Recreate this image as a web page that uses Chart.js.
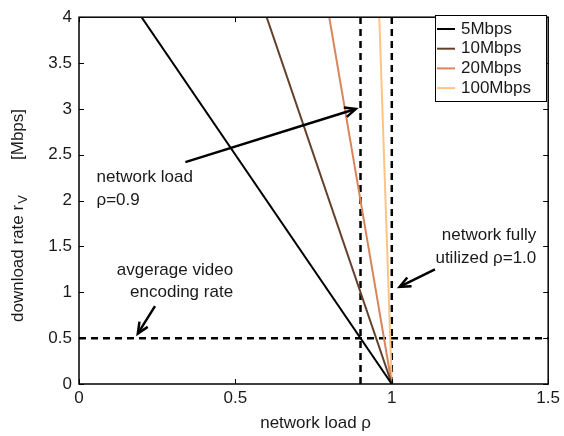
<!DOCTYPE html>
<html>
<head>
<meta charset="utf-8">
<script src="https://cdn.jsdelivr.net/npm/chart.js@4"></script>
<style>
  html, body { margin: 0; padding: 0; background: #fff; }
  #wrap { width: 564px; height: 436px; position: relative; }
</style>
</head>
<body>
<div id="wrap"><canvas id="c"></canvas></div>
<script>
// link capacities and line colours
const seriesLabels = ['5Mbps', '10Mbps', '20Mbps', '100Mbps'];
const seriesColors = ['#000000', '#62402a', '#d9845a', '#fdc482'];
// each line: [rho, rate] end points, rate = C * (1 - rho)
const seriesPoints = [
  [[0.2, 4], [1, 0]],
  [[0.6, 4], [1, 0]],
  [[0.8, 4], [1, 0]],
  [[0.96, 4], [1, 0]]
];
// reference lines
const vLines = [0.9, 1.0];
const hLines = [0.5];
const xTicks = [0, 0.5, 1, 1.5];
const yTicks = [0, 0.5, 1, 1.5, 2, 2.5, 3, 3.5, 4];

// arrows: from [x, y] to [x, y]
const arrows = [
  [[0.34, 2.42], [0.885, 3.0]],
  [[1.138, 1.25], [1.025, 1.06]],
  [[0.243, 0.85], [0.188, 0.55]]
];
// text notes: lines, anchor [x, y], alignment
const notes = [
  { lines: ['network load', 'ρ=0.9'], at: [0.056, 2.25], align: 'left' },
  { lines: ['avgerage video', 'encoding rate'], at: [0.4926, 1.24], align: 'right' },
  { lines: ['network fully', 'utilized ρ=1.0'], at: [1.462, 1.62], align: 'right' }
];

const FONT = '"Liberation Sans", Arial, sans-serif';
const FS = 17;
const TXT = '#1a1a1a';

const datasets = seriesLabels.map((lab, i) => ({
  label: lab,
  data: seriesPoints[i].map(p => ({ x: p[0], y: p[1] })),
  borderColor: seriesColors[i],
  borderWidth: 2,
  pointRadius: 0,
  fill: false
}));
vLines.forEach(v => datasets.push({
  label: '_v' + v,
  data: [{ x: v, y: 0 }, { x: v, y: 4 }],
  borderColor: '#000',
  borderWidth: 2.5,
  borderDash: [7, 5],
  pointRadius: 0
}));
hLines.forEach(h => datasets.push({
  label: '_h' + h,
  data: [{ x: 0, y: h }, { x: 1.5, y: h }],
  borderColor: '#000',
  borderWidth: 2.5,
  borderDash: [7, 5],
  pointRadius: 0
}));

function drawArrow(ctx, x1, y1, x2, y2) {
  const ang = Math.atan2(y2 - y1, x2 - x1);
  const hl = 12, hw = 0.42;
  ctx.beginPath();
  ctx.moveTo(x1, y1);
  ctx.lineTo(x2 - Math.cos(ang) * 2, y2 - Math.sin(ang) * 2);
  ctx.stroke();
  ctx.beginPath();
  ctx.moveTo(x2 - hl * Math.cos(ang - hw), y2 - hl * Math.sin(ang - hw));
  ctx.lineTo(x2, y2);
  ctx.lineTo(x2 - hl * Math.cos(ang + hw), y2 - hl * Math.sin(ang + hw));
  ctx.stroke();
}

const decorations = {
  id: 'decorations',
  afterDatasetsDraw(chart) {
    const { ctx, chartArea: a, scales: { x, y } } = chart;
    ctx.save();
    // box and inward ticks
    ctx.strokeStyle = '#000';
    ctx.lineWidth = 1.5;
    ctx.strokeRect(a.left, a.top, a.right - a.left, a.bottom - a.top);
    ctx.lineWidth = 1;
    ctx.beginPath();
    yTicks.forEach(t => {
      const py = Math.round(y.getPixelForValue(t)) + 0.5;
      ctx.moveTo(a.left, py); ctx.lineTo(a.left + 5, py);
      ctx.moveTo(a.right, py); ctx.lineTo(a.right - 5, py);
    });
    xTicks.forEach(t => {
      const px = Math.round(x.getPixelForValue(t)) + 0.5;
      ctx.moveTo(px, a.bottom); ctx.lineTo(px, a.bottom - 5);
      ctx.moveTo(px, a.top); ctx.lineTo(px, a.top + 5);
    });
    ctx.stroke();

    // arrows
    ctx.lineWidth = 2.5;
    ctx.lineCap = 'butt';
    ctx.lineJoin = 'miter';
    arrows.forEach(([p, q]) => drawArrow(ctx,
      x.getPixelForValue(p[0]), y.getPixelForValue(p[1]),
      x.getPixelForValue(q[0]), y.getPixelForValue(q[1])));

    // notes
    ctx.fillStyle = TXT;
    ctx.font = FS + 'px ' + FONT;
    ctx.textBaseline = 'middle';
    notes.forEach(n => {
      ctx.textAlign = n.align;
      const px = x.getPixelForValue(n.at[0]);
      const py = y.getPixelForValue(n.at[1]);
      n.lines.forEach((s, i) => ctx.fillText(s, px, py + i * 22.5));
    });

    // legend
    const lx = 435, ly = 15, lw = 111, lh = 86;
    ctx.fillStyle = '#fff';
    ctx.fillRect(lx, ly, lw, lh);
    ctx.strokeStyle = '#000';
    ctx.lineWidth = 1;
    ctx.strokeRect(lx + 0.5, ly + 0.5, lw, lh);
    ctx.textAlign = 'left';
    seriesLabels.forEach((lab, i) => {
      const ry = ly + 14 + i * 19.7;
      ctx.strokeStyle = seriesColors[i];
      ctx.lineWidth = 2;
      ctx.beginPath();
      ctx.moveTo(lx + 2, ry); ctx.lineTo(lx + 20, ry);
      ctx.stroke();
      ctx.fillStyle = TXT;
      ctx.fillText(lab, lx + 26, ry);
    });

    // axis titles
    ctx.textAlign = 'center';
    ctx.fillText('network load ρ', (a.left + a.right) / 2 + 2, 423);

    // y title reads bottom to top, with subscript V
    ctx.translate(23, 322);
    ctx.rotate(-Math.PI / 2);
    ctx.textAlign = 'left';
    ctx.textBaseline = 'alphabetic';
    ctx.font = FS + 'px ' + FONT;
    const main = 'download rate r';
    const w1 = ctx.measureText(main).width;
    ctx.fillText(main, 0, 0);
    ctx.font = '13px ' + FONT;
    ctx.fillText('V', w1 + 1, 4);
    ctx.font = FS + 'px ' + FONT;
    ctx.fillText('[Mbps]', 162, 0);
    ctx.restore();
  }
};

new Chart(document.getElementById('c'), {
  type: 'line',
  data: { datasets },
  plugins: [decorations],
  options: {
    responsive: true,
    maintainAspectRatio: false,
    animation: false,
    layout: { padding: { left: 0, right: 13, top: 10, bottom: 0 } },
    plugins: {
      legend: { display: false },
      tooltip: { enabled: false }
    },
    scales: {
      x: {
        type: 'linear',
        min: 0, max: 1.5,
        afterBuildTicks: s => { s.ticks = xTicks.map(v => ({ value: v })); },
        afterFit: s => { s.height = 52; },
        grid: { display: false, drawTicks: false },
        border: { display: false },
        ticks: { color: TXT, font: { family: FONT, size: FS }, padding: 4, maxRotation: 0,
          callback: v => String(v) }
      },
      y: {
        type: 'linear',
        min: 0, max: 4,
        afterBuildTicks: s => { s.ticks = yTicks.map(v => ({ value: v })); },
        afterFit: s => { s.width = 79; },
        grid: { display: false, drawTicks: false },
        border: { display: false },
        ticks: { color: TXT, font: { family: FONT, size: FS }, padding: 7,
          callback: v => String(v) }
      }
    }
  }
});
</script>
</body>
</html>
